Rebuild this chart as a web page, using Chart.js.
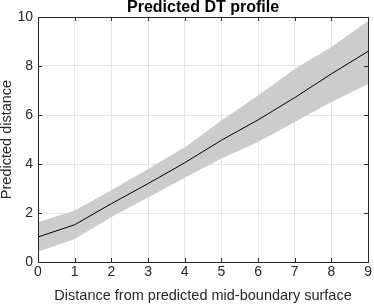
<!DOCTYPE html>
<html>
<head>
<meta charset="utf-8">
<script src="https://cdn.jsdelivr.net/npm/chart.js@4"></script>
<style>
  html, body { margin: 0; padding: 0; background: #fff; }
  #wrap { width: 374px; height: 305px; }
</style>
</head>
<body>
<div id="wrap"><canvas id="dt-chart" width="374" height="305"></canvas></div>
<script>
// Data
const distances = [0, 1, 2, 3, 4, 5, 6, 7, 8, 9];
const meanPred = [1.02, 1.52, 2.38, 3.2, 4.05, 4.97, 5.8, 6.71, 7.68, 8.6];
const upperPred = [1.62, 2.1, 2.93, 3.8, 4.68, 5.78, 6.8, 7.88, 8.78, 9.84];
const lowerPred = [0.42, 0.94, 1.84, 2.63, 3.44, 4.22, 4.9, 5.71, 6.53, 7.27];
const xTicks = [0, 1, 2, 3, 4, 5, 6, 7, 8, 9];
const yTicks = [0, 2, 4, 6, 8, 10];

const fontFamily = '"Liberation Sans", Arial, Helvetica, sans-serif';
const axisColor = '#262626';

function toPoints(values) {
    return distances.map((d, i) => ({ x: d, y: values[i] }));
}

// MATLAB style box with inward ticks on all four sides
const boxPlugin = {
    id: 'matlabBox',
    afterDraw(chart) {
        const ctx = chart.ctx;
        const area = chart.chartArea;
        const xs = chart.scales.x;
        const ys = chart.scales.y;
        const len = 4;
        ctx.save();
        ctx.strokeStyle = axisColor;
        ctx.lineWidth = 1;
        ctx.beginPath();
        xTicks.forEach(v => {
            const px = Math.round(xs.getPixelForValue(v)) + 0.5;
            ctx.moveTo(px, area.bottom);
            ctx.lineTo(px, area.bottom - len);
            ctx.moveTo(px, area.top);
            ctx.lineTo(px, area.top + len);
        });
        yTicks.forEach(v => {
            const py = Math.round(ys.getPixelForValue(v)) + 0.5;
            ctx.moveTo(area.left, py);
            ctx.lineTo(area.left + len, py);
            ctx.moveTo(area.right, py);
            ctx.lineTo(area.right - len, py);
        });
        ctx.stroke();
        ctx.strokeRect(Math.round(area.left) + 0.5, Math.round(area.top) + 0.5,
            Math.round(area.right - area.left), Math.round(area.bottom - area.top));
        ctx.restore();
    }
};

new Chart(document.getElementById('dt-chart'), {
    type: 'line',
    data: {
        datasets: [
            {
                // drawn last, so it sits on top of the band
                label: 'mean',
                data: toPoints(meanPred),
                borderColor: '#000000',
                borderWidth: 1,
                pointRadius: 0,
                fill: false
            },
            {
                label: 'upper',
                data: toPoints(upperPred),
                borderWidth: 0,
                pointRadius: 0,
                backgroundColor: '#cccccc',
                fill: '+1'
            },
            {
                label: 'lower',
                data: toPoints(lowerPred),
                borderWidth: 0,
                pointRadius: 0,
                fill: false
            }
        ]
    },
    options: {
        responsive: false,
        animation: false,
        events: [],
        layout: { padding: { left: 0, right: 5, top: 0, bottom: 0 } },
        plugins: {
            legend: { display: false },
            tooltip: { enabled: false },
            title: {
                display: true,
                text: 'Predicted DT profile',
                fullSize: false,
                color: '#000000',
                font: { family: fontFamily, size: 16, weight: 'bold', lineHeight: 1.0 },
                padding: { top: 0, bottom: 1 }
            }
        },
        scales: {
            x: {
                type: 'linear',
                min: 0,
                max: 9,
                afterFit(scale) { scale.height = 43; },
                ticks: {
                    stepSize: 1,
                    color: axisColor,
                    padding: 2,
                    font: { family: fontFamily, size: 14 }
                },
                grid: { color: '#e5e5e5', drawTicks: false },
                border: { display: false },
                title: {
                    display: true,
                    text: 'Distance from predicted mid-boundary surface',
                    color: axisColor,
                    font: { family: fontFamily, size: 14.5 },
                    padding: { top: 0, bottom: 0 }
                }
            },
            y: {
                type: 'linear',
                min: 0,
                max: 10,
                afterFit(scale) { scale.width = 38; },
                ticks: {
                    stepSize: 2,
                    color: axisColor,
                    padding: 5,
                    font: { family: fontFamily, size: 14 }
                },
                grid: { color: '#e5e5e5', drawTicks: false },
                border: { display: false },
                title: {
                    display: true,
                    text: 'Predicted distance',
                    color: axisColor,
                    font: { family: fontFamily, size: 14.5, lineHeight: 1.0 },
                    padding: { top: 0, bottom: 0 }
                }
            }
        }
    },
    plugins: [boxPlugin]
});
</script>
</body>
</html>
